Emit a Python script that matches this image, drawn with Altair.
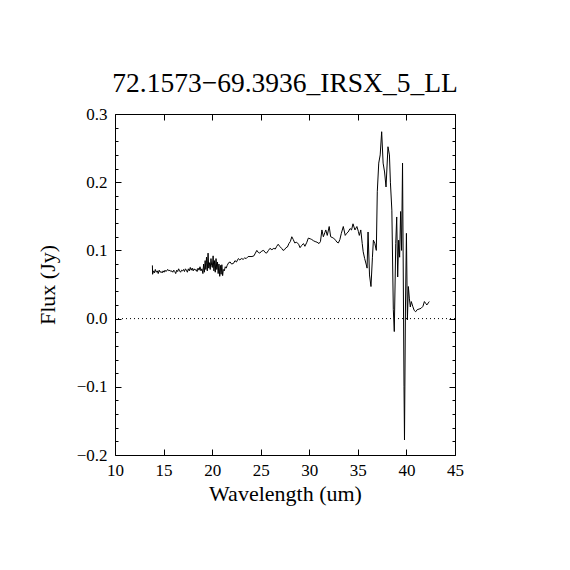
import altair as alt
import pandas as pd

wave = [
    13.85, 13.87, 13.95, 14.05, 14.15, 14.25, 14.35, 14.45, 14.55, 14.65, 14.75, 14.85, 14.95,
    15.05, 15.15, 15.25, 15.35, 15.45, 15.55, 15.65, 15.75, 15.85, 15.95, 16.05, 16.15, 16.25,
    16.35, 16.45, 16.55, 16.65, 16.75, 16.85, 16.95, 17.05, 17.15, 17.25, 17.35, 17.45, 17.55,
    17.65, 17.75, 17.85, 17.95, 18.05, 18.15, 18.25, 18.35, 18.45, 18.55, 18.65, 18.75, 18.85,
    18.95,
    19.05, 19.12, 19.2, 19.28, 19.35, 19.42, 19.5, 19.58, 19.65, 19.72, 19.8, 19.88, 19.95,
    20.02, 20.1, 20.18, 20.25, 20.32, 20.4, 20.48, 20.55, 20.62, 20.7, 20.78, 20.85, 20.92,
    21.0, 21.08, 21.15, 21.25, 21.35, 21.45,
    21.55, 21.7, 21.85, 22.0, 22.2, 22.35, 22.5, 22.7, 22.85, 23.0, 23.2, 23.35, 23.5, 23.7,
    23.9, 24.1, 24.3, 24.45, 24.6, 24.75, 24.9, 25.1, 25.3, 25.45, 25.6, 25.8, 25.95, 26.15,
    26.35, 26.5, 26.65, 26.8, 26.95, 27.15, 27.3, 27.45, 27.6, 27.75, 27.9, 28.05, 28.2, 28.35,
    28.5, 28.7, 28.9, 29.05, 29.2, 29.4, 29.55, 29.75, 29.9, 30.1, 30.25, 30.45, 30.6, 30.8,
    31.0, 31.15, 31.3, 31.45, 31.6, 31.7, 31.85, 32.05, 32.2, 32.35, 32.5, 32.7, 32.85, 33.0,
    33.15, 33.3, 33.5, 33.7, 33.85, 34.0, 34.2, 34.35, 34.5, 34.7, 34.9, 35.05, 35.15, 35.3,
    35.45, 35.55, 35.7, 35.85, 35.95, 36.05, 36.2, 36.35, 36.5, 36.6, 36.75, 36.9, 37.0, 37.15,
    37.3, 37.45, 37.6, 37.75, 37.9, 38.1, 38.25, 38.35, 38.5, 38.65, 38.75, 38.9, 39.0, 39.1,
    39.2, 39.3, 39.4, 39.5, 39.6, 39.75, 39.8, 39.9, 40.0, 40.1, 40.2, 40.3, 40.4, 40.5, 40.65,
    40.8, 40.95, 41.1, 41.3, 41.5, 41.7, 41.85, 42.0, 42.1, 42.25, 42.35,
]

flux = [
    0.078, 0.065, 0.070, 0.067, 0.072, 0.068, 0.070, 0.066, 0.071, 0.068, 0.069, 0.067, 0.070,
    0.068, 0.071, 0.069, 0.071, 0.072, 0.070, 0.071, 0.069, 0.070, 0.068, 0.071, 0.069, 0.066,
    0.071, 0.069, 0.073, 0.070, 0.068, 0.071, 0.070, 0.072, 0.069, 0.073, 0.071, 0.068, 0.073,
    0.070, 0.075, 0.071, 0.074, 0.070, 0.073, 0.071, 0.072, 0.069, 0.074, 0.071, 0.076, 0.070,
    0.073,
    0.066, 0.080, 0.068, 0.085, 0.072, 0.090, 0.070, 0.096, 0.074, 0.082, 0.072, 0.088, 0.078,
    0.075, 0.092, 0.070, 0.085, 0.068, 0.088, 0.072, 0.083, 0.066, 0.080, 0.062, 0.078, 0.065,
    0.079, 0.063, 0.072, 0.070, 0.076, 0.074,
    0.078, 0.082, 0.083, 0.080, 0.081, 0.085, 0.083, 0.088, 0.086, 0.088, 0.087, 0.089, 0.088,
    0.091, 0.091, 0.091, 0.092, 0.096, 0.100, 0.097, 0.096, 0.099, 0.100, 0.097, 0.096, 0.100,
    0.103, 0.101, 0.103, 0.102, 0.106, 0.109, 0.106, 0.103, 0.100, 0.101, 0.104, 0.105, 0.110,
    0.113, 0.120, 0.116, 0.111, 0.112, 0.109, 0.104, 0.107, 0.110, 0.106, 0.112, 0.118, 0.117,
    0.116, 0.114, 0.113, 0.112, 0.110, 0.113, 0.130, 0.120, 0.126, 0.130, 0.122, 0.135, 0.120,
    0.119, 0.118, 0.115, 0.112, 0.111, 0.116, 0.125, 0.135, 0.122, 0.125, 0.127, 0.132, 0.130,
    0.139, 0.130, 0.135, 0.128, 0.122, 0.130, 0.110, 0.098, 0.088, 0.080, 0.074, 0.127, 0.064,
    0.047, 0.090, 0.115, 0.110, 0.100, 0.186, 0.228, 0.240, 0.274, 0.228, 0.215, 0.193, 0.252,
    0.240, 0.200, 0.159, 0.013, -0.019, 0.110, 0.149, 0.061, 0.115, 0.090, 0.157, 0.100, 0.228,
    -0.100, -0.178, 0.017, 0.125, -0.002, 0.047, 0.030, 0.017, 0.025, 0.018, 0.012, 0.010,
    0.013, 0.014, 0.015, 0.018, 0.025, 0.022, 0.020, 0.023, 0.025,
]

x_major = [10, 15, 20, 25, 30, 35, 40, 45]
y_major = [-0.2, -0.1, 0.0, 0.1, 0.2, 0.3]
y_minor = [-0.18, -0.16, -0.14, -0.12, -0.08, -0.06, -0.04, -0.02, 0.02, 0.04, 0.06, 0.08,
           0.12, 0.14, 0.16, 0.18, 0.22, 0.24, 0.26, 0.28]
zero_level = [0.0]

TITLE = "72.1573\u221269.3936_IRSX_5_LL"
FONT = "Liberation Serif"
W, H = 340, 341

df = pd.DataFrame({"wave": wave, "flux": flux})
zdf = pd.DataFrame({"flux": zero_level})

xscale = alt.Scale(domain=[10, 45], nice=False, zero=False)
yscale = alt.Scale(domain=[-0.2, 0.3], nice=False, zero=False)


def tick_axis(orient, values, size, offset):
    return alt.Axis(orient=orient, values=values, labels=False, title=None, domain=False,
                    grid=False, ticks=True, tickSize=size, tickColor="black", tickWidth=1,
                    offset=offset)


base = alt.Chart(df)

main = base.mark_line(color="black", strokeWidth=1, interpolate="linear").encode(
    x=alt.X("wave:Q", scale=xscale,
            axis=alt.Axis(orient="bottom", values=x_major, format="d", title="Wavelength (um)",
                          ticks=False, domain=False, grid=False, labelPadding=7,
                          labelFlush=False, labelOverlap=False,
                          labelFont=FONT, labelFontSize=17, labelColor="black",
                          titleFont=FONT, titleFontSize=22, titleFontWeight="normal",
                          titleColor="black", titlePadding=5)),
    y=alt.Y("flux:Q", scale=yscale,
            axis=alt.Axis(orient="left", values=y_major, format=".1f", title="Flux (Jy)",
                          ticks=False, domain=False, grid=False, labelPadding=8,
                          labelFlush=False, labelOverlap=False,
                          labelFont=FONT, labelFontSize=17, labelColor="black",
                          titleFont=FONT, titleFontSize=22, titleFontWeight="normal",
                          titleColor="black", titlePadding=17)),
)

ticks1 = base.mark_line(opacity=0).encode(
    x=alt.X("wave:Q", scale=xscale, axis=tick_axis("top", x_major, 6, -H)),
    y=alt.Y("flux:Q", scale=yscale, axis=tick_axis("right", y_major, 6, -W)),
)

ticks2 = base.mark_line(opacity=0).encode(
    x=alt.X("wave:Q", scale=xscale, axis=tick_axis("bottom", x_major, 6, -H)),
    y=alt.Y("flux:Q", scale=yscale, axis=tick_axis("left", y_major, 6, -W)),
)

ticks3 = base.mark_line(opacity=0).encode(
    y=alt.Y("flux:Q", scale=yscale, axis=tick_axis("right", y_minor, 3, -W)),
)

zero = alt.Chart(zdf).mark_rule(color="black", strokeWidth=1, strokeDash=[1, 3]).encode(
    y=alt.Y("flux:Q", scale=yscale, axis=tick_axis("left", y_minor, 3, -W)),
)

chart = alt.layer(zero, main, ticks1, ticks2, ticks3).resolve_axis(
    x="independent", y="independent"
).properties(
    width=W, height=H,
    autosize=alt.AutoSizeParams(type="none"),
    padding={"left": 107, "top": 106, "right": 107, "bottom": 107},
    title=alt.TitleParams(TITLE, font=FONT, fontSize=27.5, fontWeight="normal", color="black",
                          anchor="middle", frame="group", offset=8),
).configure_view(stroke="black", strokeWidth=1)

chart.save("out.html", embed_options={"renderer": "svg", "actions": False})
